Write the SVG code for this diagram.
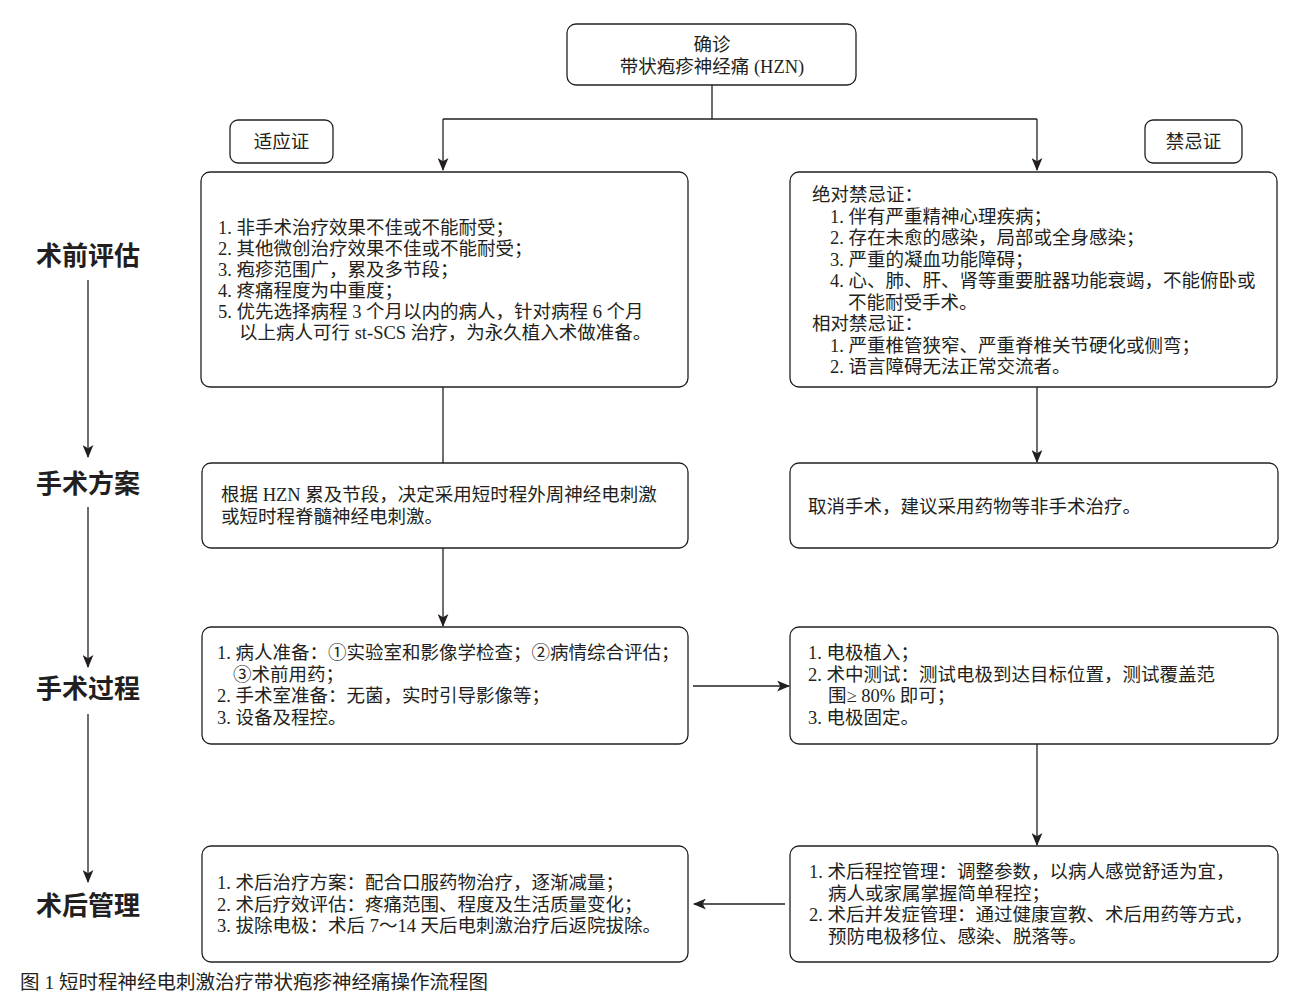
<svg xmlns="http://www.w3.org/2000/svg" width="1307" height="995" viewBox="0 0 1307 995">
<defs>
<style>
.box{fill:#fff;stroke:#231f20;stroke-width:1.3}
.t{font-family:"Liberation Serif","Noto Sans CJK SC",serif;font-size:18.5px;fill:#231f20}
.c{text-anchor:middle}
.stage{font-family:"Liberation Serif","Noto Sans CJK SC",serif;font-size:26px;font-weight:bold;fill:#231f20;text-anchor:middle}
.ln{fill:none;stroke:#231f20;stroke-width:1.3}
.arr{marker-end:url(#ah)}
</style>
<marker id="ah" viewBox="0 0 12 10" refX="11" refY="5" markerWidth="13" markerHeight="11" markerUnits="userSpaceOnUse" orient="auto">
<path d="M0,0 L12,5 L0,10 L3,5 z" fill="#231f20"/>
</marker>
</defs>
<rect width="1307" height="995" fill="#fff"/>

<g id="connectors">
<path class="ln" d="M712,85 V119 M443,119 H1037"/>
<path class="ln arr" d="M443,119 V170"/>
<path class="ln arr" d="M1037,119 V170"/>
<path class="ln" d="M443,387 V463"/>
<path class="ln arr" d="M1037,387 V462"/>
<path class="ln arr" d="M443,548 V626"/>
<path class="ln arr" d="M693,686 H789"/>
<path class="ln arr" d="M1037,744 V845"/>
<path class="ln arr" d="M785,904 H694"/>
<path class="ln arr" d="M88,280 V457"/>
<path class="ln arr" d="M88,507 V667"/>
<path class="ln arr" d="M88,714 V882"/>
</g>

<g id="stages">
<text class="stage" x="88" y="265">术前评估</text>
<text class="stage" x="88" y="493">手术方案</text>
<text class="stage" x="88" y="698">手术过程</text>
<text class="stage" x="88" y="915">术后管理</text>
</g>

<g id="diagnosis">
<rect class="box" x="567" y="24" width="289" height="61" rx="9"/>
<text class="t c" x="712" y="51">确诊</text>
<text class="t c" x="712" y="73">带状疱疹神经痛 (HZN)</text>
</g>

<g id="indication-label">
<rect class="box" x="230" y="120" width="103" height="43" rx="8"/>
<text class="t c" x="281.5" y="148">适应证</text>
</g>

<g id="contra-label">
<rect class="box" x="1145" y="120" width="97" height="43" rx="8"/>
<text class="t c" x="1193.5" y="148">禁忌证</text>
</g>

<g id="indications">
<rect class="box" x="201" y="172" width="487" height="215" rx="9"/>
<text class="t" x="218" y="234">1. 非手术治疗效果不佳或不能耐受；</text>
<text class="t" x="218" y="255">2. 其他微创治疗效果不佳或不能耐受；</text>
<text class="t" x="218" y="276">3. 疱疹范围广，累及多节段；</text>
<text class="t" x="218" y="297">4. 疼痛程度为中重度；</text>
<text class="t" x="218" y="318">5. 优先选择病程 3 个月以内的病人，针对病程 6 个月</text>
<text class="t" x="239" y="339">以上病人可行 st-SCS 治疗，为永久植入术做准备。</text>
</g>

<g id="contraindications">
<rect class="box" x="790" y="172" width="487" height="215" rx="9"/>
<text class="t" x="812" y="201">绝对禁忌证：</text>
<text class="t" x="830" y="222.5">1. 伴有严重精神心理疾病；</text>
<text class="t" x="830" y="244">2. 存在未愈的感染，局部或全身感染；</text>
<text class="t" x="830" y="265.5">3. 严重的凝血功能障碍；</text>
<text class="t" x="830" y="287">4. 心、肺、肝、肾等重要脏器功能衰竭，不能俯卧或</text>
<text class="t" x="848" y="308.5">不能耐受手术。</text>
<text class="t" x="812" y="330">相对禁忌证：</text>
<text class="t" x="830" y="351.5">1. 严重椎管狭窄、严重脊椎关节硬化或侧弯；</text>
<text class="t" x="830" y="373">2. 语言障碍无法正常交流者。</text>
</g>

<g id="plan">
<rect class="box" x="202" y="463" width="486" height="85" rx="9"/>
<text class="t" x="221" y="501">根据 HZN 累及节段，决定采用短时程外周神经电刺激</text>
<text class="t" x="221" y="523">或短时程脊髓神经电刺激。</text>
</g>

<g id="cancel">
<rect class="box" x="790" y="463" width="488" height="85" rx="9"/>
<text class="t" x="808" y="513">取消手术，建议采用药物等非手术治疗。</text>
</g>

<g id="preparation">
<rect class="box" x="202" y="627" width="486" height="117" rx="9"/>
<text class="t" x="217" y="659">1. 病人准备：①实验室和影像学检查；②病情综合评估；</text>
<text class="t" x="233" y="680.5">③术前用药；</text>
<text class="t" x="217" y="702">2. 手术室准备：无菌，实时引导影像等；</text>
<text class="t" x="217" y="723.5">3. 设备及程控。</text>
</g>

<g id="implant">
<rect class="box" x="790" y="627" width="488" height="117" rx="9"/>
<text class="t" x="808" y="659">1. 电极植入；</text>
<text class="t" x="808" y="680.5">2. 术中测试：测试电极到达目标位置，测试覆盖范</text>
<text class="t" x="828" y="702">围≥ 80% 即可；</text>
<text class="t" x="808" y="723.5">3. 电极固定。</text>
</g>

<g id="postop-program">
<rect class="box" x="790" y="846" width="488" height="116" rx="9"/>
<text class="t" x="809" y="878">1. 术后程控管理：调整参数，以病人感觉舒适为宜，</text>
<text class="t" x="828" y="899.5">病人或家属掌握简单程控；</text>
<text class="t" x="809" y="921">2. 术后并发症管理：通过健康宣教、术后用药等方式，</text>
<text class="t" x="828" y="942.5">预防电极移位、感染、脱落等。</text>
</g>

<g id="postop-treatment">
<rect class="box" x="202" y="846" width="486" height="116" rx="9"/>
<text class="t" x="217" y="889">1. 术后治疗方案：配合口服药物治疗，逐渐减量；</text>
<text class="t" x="217" y="910.5">2. 术后疗效评估：疼痛范围、程度及生活质量变化；</text>
<text class="t" x="217" y="932">3. 拔除电极：术后 7～14 天后电刺激治疗后返院拔除。</text>
</g>

<g id="caption">
<text class="t" x="20" y="989" style="font-size:19.5px">图 1  短时程神经电刺激治疗带状疱疹神经痛操作流程图</text>
</g>
</svg>
